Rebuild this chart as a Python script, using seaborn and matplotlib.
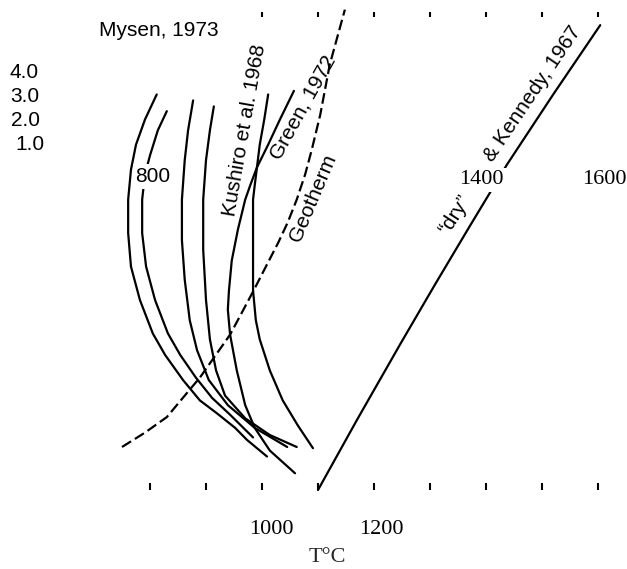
import matplotlib
matplotlib.use("Agg")
import matplotlib.pyplot as plt
import seaborn as sns
import pandas as pd

# Melting curves of peridotite: temperature (°C) against pressure (GPa)
mysen_a_t = [812, 791, 775, 766, 761, 761, 766, 782, 805, 827, 859, 889, 920, 952, 973, 1009]
mysen_a_p = [3.31, 3.10, 2.89, 2.68, 2.43, 2.15, 1.87, 1.59, 1.31, 1.13, 0.92, 0.75, 0.64, 0.52, 0.42, 0.28]

mysen_b_t = [830, 814, 800, 791, 786, 786, 793, 809, 832, 854, 882, 911, 943, 984]
mysen_b_p = [3.17, 3.01, 2.80, 2.64, 2.43, 2.15, 1.87, 1.59, 1.31, 1.13, 0.94, 0.77, 0.63, 0.44]

mysen_c_t = [877, 868, 862, 857, 857, 862, 871, 884, 905, 939, 987, 1045]
mysen_c_p = [3.26, 3.01, 2.76, 2.43, 2.09, 1.76, 1.42, 1.17, 0.92, 0.71, 0.52, 0.36]

mysen_d_t = [914, 907, 900, 895, 895, 900, 907, 918, 934, 970, 1014, 1062]
mysen_d_p = [3.21, 3.01, 2.76, 2.43, 2.01, 1.59, 1.26, 1.00, 0.79, 0.60, 0.46, 0.36]

kushiro_t = [1011, 1004, 996, 991, 987, 984, 984, 984, 989, 996, 1014, 1037, 1064, 1091]
kushiro_p = [3.31, 3.10, 2.89, 2.70, 2.55, 2.43, 2.01, 1.67, 1.42, 1.26, 1.00, 0.75, 0.54, 0.35]

green_t = [1057, 1032, 1011, 991, 979, 970, 957, 946, 941, 939, 943, 955, 970, 987, 1014, 1059]
green_p = [3.34, 3.10, 2.89, 2.70, 2.55, 2.43, 2.18, 1.92, 1.67, 1.51, 1.30, 1.00, 0.71, 0.52, 0.33, 0.14]

geotherm_t = [750, 791, 830, 871, 889, 943, 984, 1007, 1029, 1046, 1062, 1077, 1089, 1104, 1121, 1148]
geotherm_p = [0.36, 0.48, 0.61, 0.84, 0.94, 1.30, 1.66, 1.87, 2.07, 2.24, 2.43, 2.64, 2.85, 3.14, 3.56, 4.02]

dry_t = [1100, 1170, 1248, 1309, 1370, 1437, 1520, 1604]
dry_p = [0.0, 0.59, 1.23, 1.72, 2.20, 2.72, 3.31, 3.89]

bottom_ticks = [800, 900, 1000, 1100, 1200, 1300, 1400, 1500, 1600]
top_ticks = [1000, 1100, 1200, 1300, 1400, 1500, 1600]
pressure_labels = ["4.0", "3.0", "2.0", "1.0"]

W, H = 627, 569

sns.set_style("white")
plt.rcParams["font.family"] = ["Liberation Sans", "DejaVu Sans"]

fig = plt.figure(figsize=(W / 100, H / 100), dpi=100)
ax = fig.add_axes([94 / W, 79 / H, 532 / W, 478 / H])

solid = [
    (mysen_a_t, mysen_a_p),
    (mysen_b_t, mysen_b_p),
    (mysen_c_t, mysen_c_p),
    (mysen_d_t, mysen_d_p),
    (kushiro_t, kushiro_p),
    (green_t, green_p),
    (dry_t, dry_p),
]
for t, p in solid:
    df = pd.DataFrame({"T": t, "P": p})
    sns.lineplot(data=df, x="T", y="P", sort=False, estimator=None, color="black",
                 linewidth=1.6, ax=ax, solid_joinstyle="round", solid_capstyle="round",
                 clip_on=False)

geo = pd.DataFrame({"T": geotherm_t, "P": geotherm_p})
sns.lineplot(data=geo, x="T", y="P", sort=False, estimator=None, color="black",
             linewidth=1.6, ax=ax, clip_on=False)
ax.lines[-1].set_linestyle((0, (4.8, 2.0)))

ax.set_xlim(700, 1650)
ax.set_ylim(0, 4.0)
ax.set_xticks(bottom_ticks)
ax.set_yticks([])
ax.set_ylabel("")
ax.tick_params(axis="x", direction="in", length=5, width=1.5, color="black",
               bottom=True, top=False, labelbottom=False)
for s in ax.spines.values():
    s.set_visible(False)

sec = ax.secondary_xaxis("top")
sec.set_xticks(top_ticks)
sec.tick_params(direction="in", length=3.6, width=1.5, color="black", labeltop=False)
for s in sec.spines.values():
    s.set_visible(False)

ax.set_xlabel("T°C", fontfamily="Liberation Serif", fontsize=16)
ax.xaxis.set_label_coords((327.5 - 94) / 532, (490 - 548) / 478)


def px(x, y):
    return x / W, 1 - y / H


sans = dict(fontfamily=["Liberation Sans", "DejaVu Sans"], fontsize=15, color="black")
serif = dict(fontfamily="Liberation Serif", fontsize=16, color="black")
white = dict(facecolor="white", edgecolor="none", pad=2)

fig.text(*px(159, 30), "Mysen, 1973", ha="center", va="center", **sans)
for lab, (x, y) in zip(pressure_labels, [(9, 72), (10, 96), (11, 120), (15, 144)]):
    fig.text(*px(x, y), lab, ha="left", va="center", **sans)

fig.text(*px(153, 176.5), "800", ha="center", va="center", bbox=white, zorder=5, **sans)
fig.text(*px(481.5, 180), "1400", ha="center", va="center", bbox=white, zorder=5, **serif)
fig.text(*px(604, 180), "1600", ha="center", va="center", **serif)
fig.text(*px(271, 530), "1000", ha="center", va="center", **serif)
fig.text(*px(381, 530), "1200", ha="center", va="center", **serif)

fig.text(*px(245, 130), "Kushiro et al. 1968", ha="center", va="center",
         rotation=80, rotation_mode="anchor", **sans)
fig.text(*px(303, 108), "Green, 1972", ha="center", va="center",
         rotation=61, rotation_mode="anchor", **sans)
fig.text(*px(313, 198), "Geotherm", ha="center", va="center",
         rotation=67, rotation_mode="anchor", **sans)
fig.text(*px(455, 215), "“dry”", ha="center", va="center",
         rotation=57, rotation_mode="anchor", **sans)
fig.text(*px(533, 94), "& Kennedy, 1967", ha="center", va="center",
         rotation=56, rotation_mode="anchor", **sans)

fig.savefig("out.png", dpi=100)
